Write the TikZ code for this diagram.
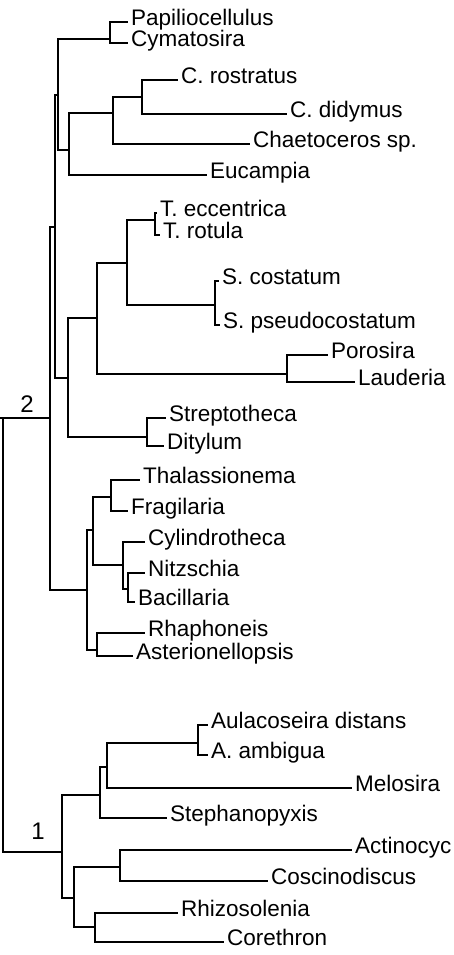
\documentclass[tikz,border=0pt]{standalone}
\usepackage{fontspec}
\setmainfont{Liberation Sans}
\usepackage{tikz}
\tikzset{
  % tree branches
  branch/.style={
    draw=black, line width=1.4pt
  },
  % leaf names
  taxon/.style={
    anchor=west, inner xsep=3pt, inner ysep=0pt,
    text height=13pt, text depth=6pt,
    font=\fontsize{22.5}{27}\selectfont
  },
  % clade numbers
  cladelabel/.style={
    inner sep=0pt, font=\fontsize{24}{28}\selectfont
  }
}

\begin{document}
\begin{tikzpicture}[x=1pt, y=-1pt]
  \useasboundingbox (0,0) rectangle (453,955);

  % --- Internal nodes ---
  \coordinate (root) at (3,418);
  \coordinate (n2)   at (50,418);
  \coordinate (nX)   at (55,227);
  \coordinate (nA)   at (58,95);
  \coordinate (nPC)  at (110,39);
  \coordinate (nB)   at (69,150);
  \coordinate (nCh)  at (113,113);
  \coordinate (nCC)  at (142,97);
  \coordinate (nC)   at (68,378);
  \coordinate (nD)   at (97,318);
  \coordinate (nT)   at (127,263);
  \coordinate (nTT)  at (155,220);
  \coordinate (nS)   at (215,305);
  \coordinate (nPL)  at (287,374);
  \coordinate (nSD)  at (147,437);
  \coordinate (nP)   at (87,590);
  \coordinate (nQ)   at (93,530);
  \coordinate (nTF)  at (111,497);
  \coordinate (nCN)  at (123,565);
  \coordinate (nNB)  at (128,589);
  \coordinate (nRA)  at (97,650);
  \coordinate (n1)   at (62,852);
  \coordinate (nM)   at (100,795);
  \coordinate (nAM)  at (107,767);
  \coordinate (nAu)  at (198,743);
  \coordinate (nK)   at (74,898);
  \coordinate (nAC)  at (120,867);
  \coordinate (nRC)  at (95,927);

  % --- Leaves, clade 2 ---
  \node[taxon] (papil) at (128,22)  {Papiliocellulus};
  \node[taxon] (cymat) at (128,43)  {Cymatosira};
  \node[taxon] (crost) at (178,80)  {C. rostratus};
  \node[taxon] (cdidy) at (287,114) {C. didymus};
  \node[taxon] (chaet) at (250,144) {Chaetoceros sp.};
  \node[taxon] (eucam) at (207,175) {Eucampia};
  \node[taxon] (tecc)  at (157,213) {T. eccentrica};
  \node[taxon] (trot)  at (160,235) {T. rotula};
  \node[taxon] (scost) at (219,281) {S. costatum};
  \node[taxon] (spseu) at (220,325) {S. pseudocostatum};
  \node[taxon] (poros) at (328,355) {Porosira};
  \node[taxon] (laude) at (355,382) {Lauderia};
  \node[taxon] (strep) at (166,418) {Streptotheca};
  \node[taxon] (dityl) at (164,446) {Ditylum};
  \node[taxon] (thala) at (140,480) {Thalassionema};
  \node[taxon] (fragi) at (128,511) {Fragilaria};
  \node[taxon] (cylin) at (145,542) {Cylindrotheca};
  \node[taxon] (nitzs) at (145,573) {Nitzschia};
  \node[taxon] (bacil) at (135,602) {Bacillaria};
  \node[taxon] (rhaph) at (145,633) {Rhaphoneis};
  \node[taxon] (aster) at (133,656) {Asterionellopsis};

  % --- Leaves, clade 1 ---
  \node[taxon] (aulac) at (208,725) {Aulacoseira distans};
  \node[taxon] (aambi) at (208,755) {A. ambigua};
  \node[taxon] (melos) at (352,788) {Melosira};
  \node[taxon] (steph) at (167,818) {Stephanopyxis};
  \node[taxon] (actin) at (352,850) {Actinocyc};
  \node[taxon] (cosci) at (268,881) {Coscinodiscus};
  \node[taxon] (rhizo) at (178,913) {Rhizosolenia};
  \node[taxon] (coret) at (224,942) {Corethron};

  % clade numbers
  \node[cladelabel] (lab2) at (27,404) {2};
  \node[cladelabel] (lab1) at (38,831) {1};

  % --- Root ---
  \draw[branch] (root) -- ++(-3,0) -- (n2);
  \draw[branch] (root) |- (n1);

  % --- Clade 2 ---
  \draw[branch] (n2) |- (nX);
  \draw[branch] (n2) |- (nP);
  \draw[branch] (nX) |- (nA);
  \draw[branch] (nX) |- (nC);
  \draw[branch] (nA) |- (nPC);
  \draw[branch] (nA) |- (nB);
  \draw[branch] (nPC) |- (papil);
  \draw[branch] (nPC) |- (cymat);
  \draw[branch] (nB) |- (nCh);
  \draw[branch] (nB) |- (eucam);
  \draw[branch] (nCh) |- (nCC);
  \draw[branch] (nCh) |- (chaet);
  \draw[branch] (nCC) |- (crost);
  \draw[branch] (nCC) |- (cdidy);
  \draw[branch] (nC) |- (nD);
  \draw[branch] (nC) |- (nSD);
  \draw[branch] (nD) |- (nT);
  \draw[branch] (nD) |- (nPL);
  \draw[branch] (nT) |- (nTT);
  \draw[branch] (nT) |- (nS);
  \draw[branch] (nTT) |- (tecc);
  \draw[branch] (nTT) |- (trot);
  \draw[branch] (nS) |- (scost);
  \draw[branch] (nS) |- (spseu);
  \draw[branch] (nPL) |- (poros);
  \draw[branch] (nPL) |- (laude);
  \draw[branch] (nSD) |- (strep);
  \draw[branch] (nSD) |- (dityl);

  % pennate group
  \draw[branch] (nP) |- (nQ);
  \draw[branch] (nP) |- (nRA);
  \draw[branch] (nQ) |- (nTF);
  \draw[branch] (nQ) |- (nCN);
  \draw[branch] (nTF) |- (thala);
  \draw[branch] (nTF) |- (fragi);
  \draw[branch] (nCN) |- (cylin);
  \draw[branch] (nCN) |- (nNB);
  \draw[branch] (nNB) |- (nitzs);
  \draw[branch] (nNB) |- (bacil);
  \draw[branch] (nRA) |- (rhaph);
  \draw[branch] (nRA) |- (aster);

  % --- Clade 1 ---
  \draw[branch] (n1) |- (nM);
  \draw[branch] (n1) |- (nK);
  \draw[branch] (nM) |- (nAM);
  \draw[branch] (nM) |- (steph);
  \draw[branch] (nAM) |- (nAu);
  \draw[branch] (nAM) |- (melos);
  \draw[branch] (nAu) |- (aulac);
  \draw[branch] (nAu) |- (aambi);
  \draw[branch] (nK) |- (nAC);
  \draw[branch] (nK) |- (nRC);
  \draw[branch] (nAC) |- (actin);
  \draw[branch] (nAC) |- (cosci);
  \draw[branch] (nRC) |- (rhizo);
  \draw[branch] (nRC) |- (coret);

\end{tikzpicture}
\end{document}
